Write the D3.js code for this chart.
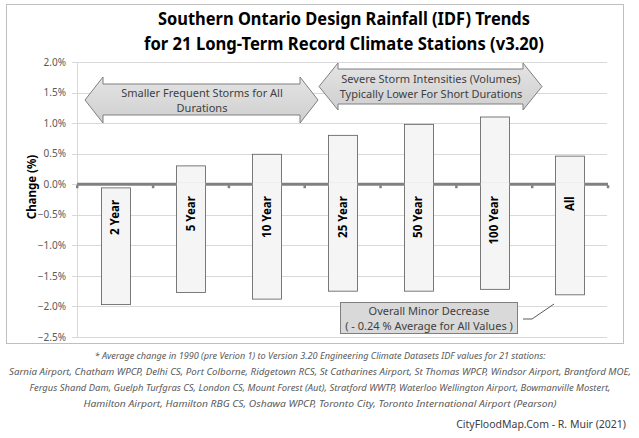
<!DOCTYPE html>
<html>
<head>
<meta charset="utf-8">
<script src="https://cdn.jsdelivr.net/npm/d3@7"></script>
<style>
  body { margin: 0; background: #fff; }
  svg { display: block; font-family: "Noto Sans", "Open Sans", sans-serif; }
</style>
</head>
<body>
<svg id="chart" width="639" height="438"></svg>
<script>
// range of IDF change per return period (percent)
var categories = ["2 Year", "5 Year", "10 Year", "25 Year", "50 Year", "100 Year", "All"];
var highs = [-0.06, 0.30, 0.49, 0.80, 0.98, 1.10, 0.46];
var lows = [-1.97, -1.77, -1.88, -1.75, -1.75, -1.72, -1.81];
var yTicks = [2.0, 1.5, 1.0, 0.5, 0.0, -0.5, -1.0, -1.5, -2.0, -2.5];

var titleLines = ["Southern Ontario Design Rainfall (IDF) Trends",
                  "for 21 Long-Term Record Climate Stations (v3.20)"];
var leftArrowText = ["Smaller Frequent Storms for All", "Durations"];
var rightArrowText = ["Severe Storm Intensities (Volumes)", "Typically Lower For Short Durations"];
var calloutText = ["Overall Minor Decrease", "( - 0.24 % Average for All Values )"];
var footLines = [
  "* Average change in 1990 (pre Verion 1) to Version 3.20 Engineering Climate Datasets IDF values for 21 stations:",
  "Sarnia Airport, Chatham WPCP, Delhi CS, Port Colborne, Ridgetown RCS, St Catharines Airport, St Thomas WPCP, Windsor Airport, Brantford MOE,",
  "Fergus Shand Dam, Guelph Turfgras CS, London CS, Mount Forest (Aut), Stratford WWTP, Waterloo Wellington Airport, Bowmanville Mostert,",
  "Hamilton Airport, Hamilton RBG CS, Oshawa WPCP, Toronto City, Toronto International Airport (Pearson)"
];
var footWidths = [451, 622, 581, 473];
var credit = "CityFloodMap.Com - R. Muir (2021)";

var svg = d3.select("#chart");

// outer frame
svg.append("rect")
  .attr("x", 6.5).attr("y", 4.5)
  .attr("width", 617).attr("height", 339)
  .attr("fill", "#fff")
  .attr("stroke", "#bfbfbf");

var x = d3.scaleBand()
  .domain(categories)
  .range([77, 608])
  .paddingInner(0.617)
  .paddingOuter(0.31);

var y = d3.scaleLinear()
  .domain([-2.5, 2.0])
  .range([337, 62]);

// gridlines
svg.append("g").selectAll("line")
  .data(yTicks)
  .join("line")
  .attr("x1", 72).attr("x2", 607)
  .attr("y1", d => Math.round(y(d)) + 0.5)
  .attr("y2", d => Math.round(y(d)) + 0.5)
  .attr("stroke", "#d9d9d9");

// y axis
var yAxis = d3.axisLeft(y)
  .tickValues(yTicks)
  .tickSize(0)
  .tickPadding(11)
  .tickFormat(d => d3.format(".1f")(d) + "%");

var yg = svg.append("g")
  .attr("transform", "translate(77,0)")
  .call(yAxis);
yg.select(".domain").attr("stroke", "#d9d9d9");
yg.selectAll("text")
  .attr("fill", "#595959")
  .attr("font-size", 10)
  .attr("font-family", "Noto Sans, sans-serif");

svg.append("text")
  .attr("transform", "translate(36,187) rotate(-90)")
  .attr("text-anchor", "middle")
  .attr("font-size", 11.5)
  .attr("font-weight", "bold")
  .attr("fill", "#000")
  .text("Change (%)");

// arrows (double headed)
function dblArrow(x0, x1, yTop, yBot, shaftTop, shaftBot, head) {
  var ym = (yTop + yBot) / 2;
  return "M" + x0 + "," + ym +
    "L" + (x0 + head) + "," + yTop +
    "L" + (x0 + head) + "," + shaftTop +
    "L" + (x1 - head) + "," + shaftTop +
    "L" + (x1 - head) + "," + yTop +
    "L" + x1 + "," + ym +
    "L" + (x1 - head) + "," + yBot +
    "L" + (x1 - head) + "," + shaftBot +
    "L" + (x0 + head) + "," + shaftBot +
    "L" + (x0 + head) + "," + yBot + "Z";
}

var grad = svg.append("defs").append("linearGradient")
  .attr("id", "arrowFill")
  .attr("x1", 0).attr("y1", 0).attr("x2", 0).attr("y2", 1);
grad.append("stop").attr("offset", "0%").attr("stop-color", "#e4e4e4");
grad.append("stop").attr("offset", "100%").attr("stop-color", "#cfcfcf");

svg.append("path")
  .attr("d", dblArrow(85, 318, 77, 123, 84, 115, 18))
  .attr("fill", "url(#arrowFill)")
  .attr("stroke", "#7f7f7f");
svg.append("path")
  .attr("d", dblArrow(319, 542, 63, 110, 69, 104, 19))
  .attr("fill", "url(#arrowFill)")
  .attr("stroke", "#7f7f7f");

svg.append("g").selectAll("text")
  .data(leftArrowText)
  .join("text")
  .attr("x", 202)
  .attr("y", (d, i) => 97 + i * 15)
  .attr("text-anchor", "middle")
  .attr("font-size", 11)
  .attr("fill", "#404040")
  .text(d => d);

svg.append("g").selectAll("text")
  .data(rightArrowText)
  .join("text")
  .attr("x", 431)
  .attr("y", (d, i) => 83 + i * 15)
  .attr("text-anchor", "middle")
  .attr("font-size", 11)
  .attr("fill", "#404040")
  .text(d => d);

// bars
var bars = categories.map((c, i) => ({ cat: c, hi: highs[i], lo: lows[i] }));

svg.append("g").selectAll("rect")
  .data(bars)
  .join("rect")
  .attr("x", d => Math.round(x(d.cat)) + 0.5)
  .attr("y", d => y(d.hi))
  .attr("width", x.bandwidth())
  .attr("height", d => y(d.lo) - y(d.hi))
  .attr("fill", "#f5f5f5")
  .attr("stroke", "#595959")
  .attr("stroke-width", 0.8);

// zero axis with category ticks
svg.append("line")
  .attr("x1", 77).attr("x2", 608)
  .attr("y1", y(0)).attr("y2", y(0))
  .attr("stroke", "#808080")
  .attr("stroke-width", 3);

svg.append("g").selectAll("rect")
  .data(d3.range(categories.length + 1))
  .join("rect")
  .attr("x", k => x.range()[0] + k * x.step() - 1)
  .attr("y", y(0) + 1)
  .attr("width", 2.5)
  .attr("height", 3)
  .attr("fill", "#808080");

// draw bars again over the zero line where they cross it
svg.append("g").selectAll("rect")
  .data(bars.filter(d => d.hi > 0))
  .join("rect")
  .attr("x", d => Math.round(x(d.cat)) + 0.9)
  .attr("y", y(0) - 2)
  .attr("width", x.bandwidth() - 0.8)
  .attr("height", 4)
  .attr("fill", "#f5f5f5");

// bar labels
svg.append("g").selectAll("text")
  .data(bars)
  .join("text")
  .attr("transform", d => "translate(" + (x(d.cat) + x.bandwidth() / 2) + "," +
        (y(Math.min(0, d.hi)) + 12) + ") rotate(-90)")
  .attr("dy", "0.36em")
  .attr("text-anchor", "end")
  .attr("font-size", 11.5)
  .attr("font-weight", "bold")
  .attr("fill", "#000")
  .text(d => d.cat);

// callout box
svg.append("rect")
  .attr("x", 340.5).attr("y", 302.5)
  .attr("width", 177).attr("height", 31)
  .attr("fill", "#d9d9d9")
  .attr("stroke", "#7f7f7f");
svg.append("g").selectAll("text")
  .data(calloutText)
  .join("text")
  .attr("x", 429)
  .attr("y", (d, i) => 315 + i * 15)
  .attr("text-anchor", "middle")
  .attr("font-size", 11)
  .attr("fill", "#404040")
  .text(d => d);
svg.append("polyline")
  .attr("points", "523,319 532,319 554,304")
  .attr("fill", "none")
  .attr("stroke", "#595959");

// title
svg.append("g").selectAll("text")
  .data(titleLines)
  .join("text")
  .attr("x", 344)
  .attr("y", (d, i) => 25 + i * 25)
  .attr("text-anchor", "middle")
  .attr("font-size", 17)
  .attr("font-weight", "bold")
  .attr("fill", "#000")
  .attr("textLength", (d, i) => i === 0 ? 372 : 400)
  .attr("lengthAdjust", "spacingAndGlyphs")
  .text(d => d);

// footnote
svg.append("g").selectAll("text")
  .data(footLines)
  .join("text")
  .attr("x", 320)
  .attr("y", (d, i) => 359 + i * 16)
  .attr("text-anchor", "middle")
  .attr("font-size", 9.5)
  .attr("font-style", "italic")
  .attr("fill", "#595959")
  .attr("textLength", (d, i) => footWidths[i])
  .attr("lengthAdjust", "spacingAndGlyphs")
  .text(d => d);

// credit: shrink font so the real text width fits
var creditText = svg.append("text")
  .attr("x", 626)
  .attr("y", 428)
  .attr("text-anchor", "end")
  .attr("font-size", 11)
  .attr("fill", "#404040")
  .text(credit);
var cw = creditText.node().getComputedTextLength();
if (cw > 170) creditText.attr("font-size", 11 * 170 / cw);
</script>
</body>
</html>
